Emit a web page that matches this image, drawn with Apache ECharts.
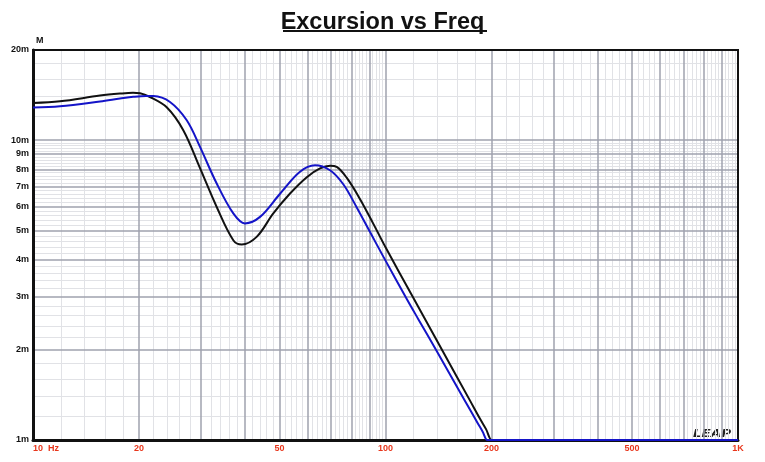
<!DOCTYPE html>
<html>
<head>
<meta charset="utf-8">
<script src="https://cdn.jsdelivr.net/npm/echarts@6/dist/echarts.min.js"></script>
<style>
html,body{margin:0;padding:0;background:#fff;}
#chart{width:765px;height:462px;}
</style>
</head>
<body>
<div id="chart"></div>
<script>
// Frequency (Hz) / excursion (mm)
var blackCurve = [
  [10, 13.31], [11.93, 13.49], [15.49, 14.09], [17.65, 14.31], [19.22, 14.40], [20.12, 14.35],
  [21.47, 13.94], [23.95, 12.88], [26.69, 10.80], [29.77, 8.07], [33.2, 5.99], [37.0, 4.64],
  [39.1, 4.49], [43.1, 4.76], [48.05, 5.70], [53.6, 6.64], [59.8, 7.53], [65.2, 8.05],
  [69.6, 8.22], [72.7, 8.15], [77.6, 7.50], [84.7, 6.36], [92.3, 5.27], [100.3, 4.37],
  [119.9, 2.98], [130.0, 2.51], [145.9, 1.963], [173.7, 1.353], [185.4, 1.177], [193, 1.085],
  [200.1, 1.0], [204, 1.0], [300, 1.0], [500, 1.0], [1000, 1.0]
];
var blueCurve = [
  [10, 12.85], [11.93, 12.98], [15.49, 13.47], [17.65, 13.77], [19.25, 13.96], [20.92, 14.06],
  [21.95, 14.05], [24.47, 13.42], [27.3, 11.66], [29.77, 9.50], [33.2, 7.17], [37.0, 5.70],
  [39.9, 5.28], [44.06, 5.55], [50.2, 6.63], [57.2, 7.85], [63.1, 8.25], [69.6, 7.94],
  [75.9, 7.13], [82.8, 5.98], [90.4, 4.94], [98.6, 4.09], [114.8, 2.96], [123.9, 2.53],
  [139.7, 1.98], [168.1, 1.349], [183.0, 1.134], [188.5, 1.068], [194.4, 1.0],
  [198, 1.0], [300, 1.0], [500, 1.0], [1000, 1.0]
];
var xLabelValues = [10, 20, 50, 100, 200, 500, 1000];
var yLabelValues = [1, 2, 3, 4, 5, 6, 7, 8, 9, 10, 20];
var xMajorGrid = [20, 30, 40, 50, 60, 70, 80, 90, 100, 200, 300, 400, 500, 600, 700, 800, 900];
var yMajorGrid = [2, 3, 4, 5, 6, 7, 8, 9, 10];

function minorList(decades, extra) {
  var out = [];
  decades.forEach(function (d) {
    for (var n = 1; n <= 9; n++) {
      for (var k = 1; k <= 4; k++) {
        out.push(Math.round((n + 0.2 * k) * d * 1000) / 1000);
      }
    }
  });
  return out.concat(extra || []);
}
var xMinorGrid = minorList([10, 100]);
var yMinorGrid = minorList([1], [12, 14, 16, 18]);

var FONT = 'Liberation Sans';
var chart = echarts.init(document.getElementById('chart'));
var option = {
  animation: false,
  backgroundColor: '#fff',
  title: {
    text: 'Excursion vs Freq',
    left: 'center',
    top: 6,
    textStyle: { fontFamily: FONT, fontSize: 23.5, fontWeight: 'bold', color: '#111' }
  },
  graphic: [
    { type: 'rect', shape: { x: 283, y: 30, width: 204, height: 2 }, style: { fill: '#111' } },
    {
      type: 'text', x: 693, y: 429, scaleX: 1.35,
      style: { text: 'LEAP', font: 'italic bold 10px "DejaVu Sans"', fill: '#222' }
    }
  ],
  grid: {
    left: 33, right: 27, top: 50, bottom: 22,
    show: true, z: 2, borderColor: '#111', borderWidth: 2, backgroundColor: 'transparent'
  },
  xAxis: [
    {
      type: 'log', logBase: 10, min: 10, max: 1000, z: 0,
      axisLine: { show: false },
      axisTick: { show: false, customValues: xMinorGrid },
      axisLabel: { show: false },
      splitLine: { show: true, lineStyle: { color: '#e1e2e6', width: 1 } }
    },
    {
      type: 'log', logBase: 10, min: 10, max: 1000, z: 1, position: 'bottom',
      axisLine: { show: true, onZero: false, lineStyle: { color: '#111', width: 3 } },
      axisTick: { show: false, customValues: xMajorGrid },
      axisLabel: {
        show: true, customValues: xLabelValues, margin: 4,
        color: '#e8361c', fontFamily: FONT, fontSize: 9, fontWeight: 'bold',
        alignMinLabel: 'left',
        formatter: function (v) {
          v = Math.round(v);
          if (v === 10) return '10  Hz';
          if (v === 1000) return '1K';
          return String(v);
        }
      },
      splitLine: { show: true, lineStyle: { color: '#9fa2ae', width: 1.5 } }
    }
  ],
  yAxis: [
    {
      type: 'log', logBase: 10, min: 1, max: 20, z: 0,
      axisLine: { show: false },
      axisTick: { show: false, customValues: yMinorGrid },
      axisLabel: { show: false },
      splitLine: { show: true, lineStyle: { color: '#e1e2e6', width: 1 } }
    },
    {
      type: 'log', logBase: 10, min: 1, max: 20, z: 1, position: 'left',
      name: 'M', nameLocation: 'end', nameGap: 5,
      nameTextStyle: { fontFamily: FONT, fontSize: 9, fontWeight: 'bold', color: '#111', align: 'left', padding: [0, 0, 0, 3] },
      axisLine: { show: true, onZero: false, lineStyle: { color: '#111', width: 3 } },
      axisTick: { show: false, customValues: yMajorGrid },
      axisLabel: {
        show: true, customValues: yLabelValues, margin: 4,
        color: '#111', fontFamily: FONT, fontSize: 9, fontWeight: 'bold',
        formatter: function (v) { return Math.round(v) + 'm'; }
      },
      splitLine: { show: true, lineStyle: { color: '#9fa2ae', width: 1.5 } }
    }
  ],
  series: [
    {
      type: 'line', xAxisIndex: 1, yAxisIndex: 1, z: 3,
      data: blackCurve, symbol: 'none', smooth: 0.35,
      lineStyle: { color: '#111', width: 2 }
    },
    {
      type: 'line', xAxisIndex: 1, yAxisIndex: 1, z: 4,
      data: blueCurve, symbol: 'none', smooth: 0.35,
      lineStyle: { color: '#1414c8', width: 2 }
    }
  ]
};
chart.setOption(option);
</script>
</body>
</html>
